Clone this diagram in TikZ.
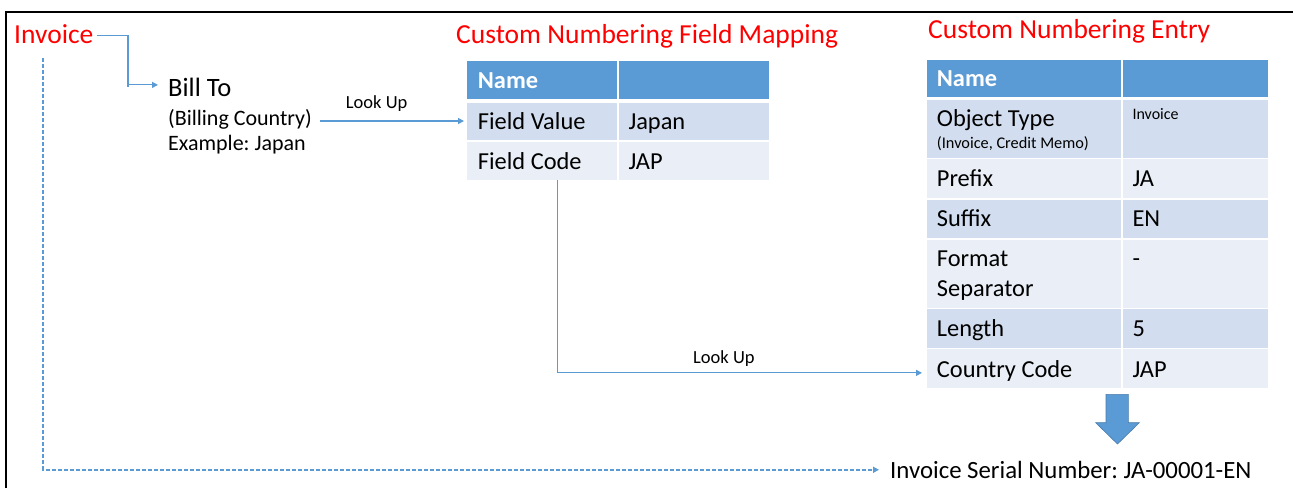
\documentclass[tikz,border=0pt]{standalone}
\usepackage{fontspec}
\setmainfont{Carlito}
\usetikzlibrary{calc,arrows.meta}
\frenchspacing
\definecolor{hdr}{HTML}{5B9BD5}
\definecolor{bandA}{HTML}{D2DEEF}
\definecolor{bandB}{HTML}{EAEFF7}
\definecolor{lnk}{HTML}{5B9BD5}
\definecolor{titlered}{HTML}{FF0000}
\tikzset{
  cell/.style={anchor=north west, inner sep=0pt, draw=none, minimum width=#1},
  txt/.style={anchor=base west, inner sep=0pt, font=\fontsize{24.4}{28}\selectfont},
  smalltxt/.style={anchor=base west, inner sep=0pt, font=\fontsize{16}{19}\selectfont},
  hdrtxt/.style={anchor=base west, inner sep=0pt, text=white, font=\fontsize{24.4}{28}\selectfont\bfseries},
  ttl/.style={anchor=base west, inner sep=0pt, text=titlered, font=\fontsize{27.5}{31}\selectfont},
  lbl/.style={anchor=base west, inner sep=0pt, font=\fontsize{18.5}{22}\selectfont},
  conn/.style={draw=lnk, line width=1.2pt, -{Triangle[length=6pt,width=6pt]}},
  dconn/.style={conn, line width=1.5pt, dash pattern=on 4pt off 2pt},
}
\begin{document}
\begin{tikzpicture}[x=1pt,y=-1pt]
\useasboundingbox (0,0) rectangle (1293,488);
% frame
\draw[line width=2pt] (5.5,488) -- (5.5,11.5) -- (1293,11.5);

% left texts
\node[ttl] (invoice) at (14,43) {Invoice};
\node[txt, font=\fontsize{26.5}{30}\selectfont] (billto) at (168,96) {Bill To};
\node[txt, font=\fontsize{22}{26}\selectfont] (billing) at (168,125) {(Billing Country)};
\node[txt, font=\fontsize{22}{26}\selectfont] (example) at (168,150) {Example: Japan};

% titles
\node[ttl] (t1) at (456,43) {Custom Numbering Field Mapping};
\node[ttl] (t2) at (928,38) {Custom Numbering Entry};

% table 1
\node[cell=150pt, minimum height=37.5pt, fill=hdr] (m11) at (467,61) {};
\node[cell=150pt, minimum height=37.5pt, fill=hdr] (m12) at (619,61) {};
\node[cell=150pt, minimum height=37pt, fill=bandA] (fv) at (467,102.3) {};
\node[cell=150pt, minimum height=37pt, fill=bandA] (m22) at (619,102.3) {};
\node[cell=150pt, minimum height=38.7pt, fill=bandB] (fc) at (467,141.3) {};
\node[cell=150pt, minimum height=38.7pt, fill=bandB] (m32) at (619,141.3) {};
\node[hdrtxt] (mname) at (477.7,88.3) {Name};
\node[txt] (mfv) at (477.7,129) {Field Value};
\node[txt] (mjp) at (628.3,129) {Japan};
\node[txt] (mfc) at (477.7,169) {Field Code};
\node[txt] (mjap) at (628.3,169) {JAP};

% table 2
\node[cell=194pt, minimum height=37.4pt, fill=hdr] (e11) at (927,59.3) {};
\node[cell=145pt, minimum height=37.4pt, fill=hdr] (e12) at (1123,59.3) {};
\node[cell=194pt, minimum height=57.3pt, fill=bandA] (e21) at (927,100) {};
\node[cell=145pt, minimum height=57.3pt, fill=bandA] (e22) at (1123,100) {};
\node[cell=194pt, minimum height=38.7pt, fill=bandB] (e31) at (927,159) {};
\node[cell=145pt, minimum height=38.7pt, fill=bandB] (e32) at (1123,159) {};
\node[cell=194pt, minimum height=38.4pt, fill=bandA] (e41) at (927,199.3) {};
\node[cell=145pt, minimum height=38.4pt, fill=bandA] (e42) at (1123,199.3) {};
\node[cell=194pt, minimum height=68pt, fill=bandB] (e51) at (927,239.3) {};
\node[cell=145pt, minimum height=68pt, fill=bandB] (e52) at (1123,239.3) {};
\node[cell=194pt, minimum height=38.3pt, fill=bandA] (e61) at (927,309) {};
\node[cell=145pt, minimum height=38.3pt, fill=bandA] (e62) at (1123,309) {};
\node[cell=194pt, minimum height=38.3pt, fill=bandB] (cc) at (927,349) {};
\node[cell=145pt, minimum height=38.3pt, fill=bandB] (e72) at (1123,349) {};
\node[hdrtxt] (ename) at (936.7,86.7) {Name};
\node[txt] (eot) at (936.7,126.7) {Object Type};
\node[smalltxt, font=\fontsize{16.3}{19}\selectfont] (eotx) at (936.7,148.3) {(Invoice, Credit Memo)};
\node[smalltxt] (einv) at (1132.3,119) {Invoice};
\node[txt] (epre) at (936.7,186.7) {Prefix};
\node[txt] (eja) at (1132.3,186.7) {JA};
\node[txt] (esuf) at (936.7,226.7) {Suffix};
\node[txt] (een) at (1132.3,226.7) {EN};
\node[txt] (efmt) at (936.7,266.7) {Format};
\node[txt] (esep) at (936.7,296) {Separator};
\node[txt] (edash) at (1132.3,266.7) {-};
\node[txt] (elen) at (936.7,336.7) {Length};
\node[txt] (efive) at (1132.3,336.7) {5};
\node[txt] (ecc) at (936.7,377.3) {Country Code};
\node[txt] (ejap) at (1132.3,377.3) {JAP};

% result
\node[txt, font=\fontsize{24.8}{28}\selectfont] (serial) at (890,478.3) {Invoice Serial Number: JA-00001-EN};

% block arrow
\fill[hdr, draw=hdr!80!black, line width=0.6pt] (1106,394.3) -- (1128.3,394.3) -- (1128.3,422.7) -- (1139.3,422.7) -- (1117.5,444) -- (1095.7,422.7) -- (1106,422.7) -- cycle;

% labels
\node[lbl] (lu1) at (345.7,108.3) {Look Up};
\node[lbl] (lu2) at (693,363.3) {Look Up};

% connectors
\draw[conn] ($(invoice.east)+(3,2)$) -| ($(billto.west)+(-40,0)$) |- ($(billto.west)+(-10,-2)$);
\draw[conn] (billing.east |- fv.west) ++(8,0) -- ($(fv.west)+(-3,0)$);
\draw[conn] (fc.south) ++(15,0) |- ($(cc.west)+(-5,4.5)$);
\draw[dconn] ($(invoice.south west)+(29,15)$) |- ($(serial.west)+(-11,0)$);
\end{tikzpicture}
\end{document}
